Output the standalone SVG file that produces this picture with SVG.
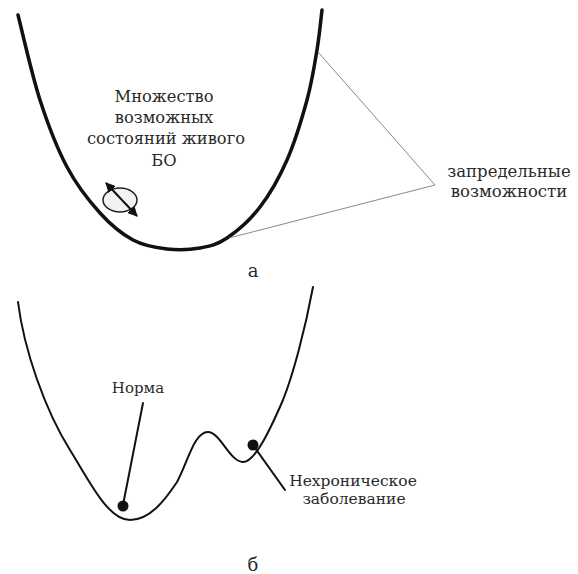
<svg xmlns="http://www.w3.org/2000/svg" width="578" height="574" viewBox="0 0 578 574">
<style>
text{font-family:'DejaVu Serif',serif;fill:#2a2a2a;text-anchor:middle}
.big{stroke:#111;fill:none;stroke-width:3.5;stroke-linecap:round}
.med{stroke:#111;fill:none;stroke-width:2;stroke-linecap:round}
.thin{stroke:#888;fill:none;stroke-width:1}
</style>
<defs>
<marker id="ah" viewBox="0 0 10 10" refX="9" refY="5" markerWidth="5" markerHeight="5" orient="auto-start-reverse">
<path d="M0,0 L10,5 L0,10 z" fill="#111"/>
</marker>
</defs>
<rect width="578" height="574" fill="#fff"/>
<g id="curve-a">
<path class="big" d="M18,15 C21.7,29.2 31.8,74.7 40,100 C48.2,125.3 57,148.2 67,167 C77,185.8 89,200.8 100,213 C111,225.2 121.8,234 133,240 C144.2,246 155.8,247.7 167,249 C178.2,250.3 190,249.8 200,248 C210,246.2 217,244.8 227,238 C237,231.2 250,220 260,207 C270,194 279.2,177.8 287,160 C294.8,142.2 302,118.3 307,100 C312,81.7 314.5,65 317,50 C319.5,35 321.2,16.7 322,10"/>
</g>
<g id="label-set" font-size="16.3">
<text x="164" y="102">Множество</text>
<text x="164" y="123">возможных</text>
<text x="166" y="144">состояний живого</text>
<text x="164" y="166">БО</text>
</g>
<g id="state-icon">
<ellipse cx="120" cy="200" rx="17" ry="12" fill="#f2f2f2" stroke="#222" stroke-width="1.5"/>
<line x1="106" y1="183" x2="137" y2="216" stroke="#111" stroke-width="2" marker-start="url(#ah)" marker-end="url(#ah)"/>
</g>
<g id="label-beyond" font-size="16.5">
<text x="509" y="177">запредельные</text>
<text x="509" y="197">возможности</text>
</g>
<g id="label-a" font-size="18">
<text x="253" y="277">а</text>
</g>
<g id="curve-b">
<path class="med" d="M18,302 C24,350 45,410 70,450 C90,482 108,520 130,520 C150,520 165,500 177,482 C188,462 194,432 208,432 C220,432 230,462 243,462 C255,462 270,430 283,400 C293,375 305,330 313,287"/>
</g>
<g id="dot-norma">
<circle cx="123" cy="506" r="5.5" fill="#111"/>
</g>
<g id="dot-chronic">
<circle cx="253" cy="445" r="5.5" fill="#111"/>
</g>
<g id="label-norma" font-size="15">
<text x="138" y="393">Норма</text>
</g>
<g id="label-chronic" font-size="15.5">
<text x="353" y="486">Нехроническое</text>
<text x="354" y="504">заболевание</text>
</g>
<g id="label-b" font-size="18">
<text x="253" y="571">б</text>
</g>
<g id="connectors">
<polyline class="thin" points="318,52 435,185 229,238"/>
<line class="med" x1="143" y1="403" x2="123" y2="505"/>
<line class="med" x1="253" y1="445" x2="285" y2="490"/>
</g>
</svg>
